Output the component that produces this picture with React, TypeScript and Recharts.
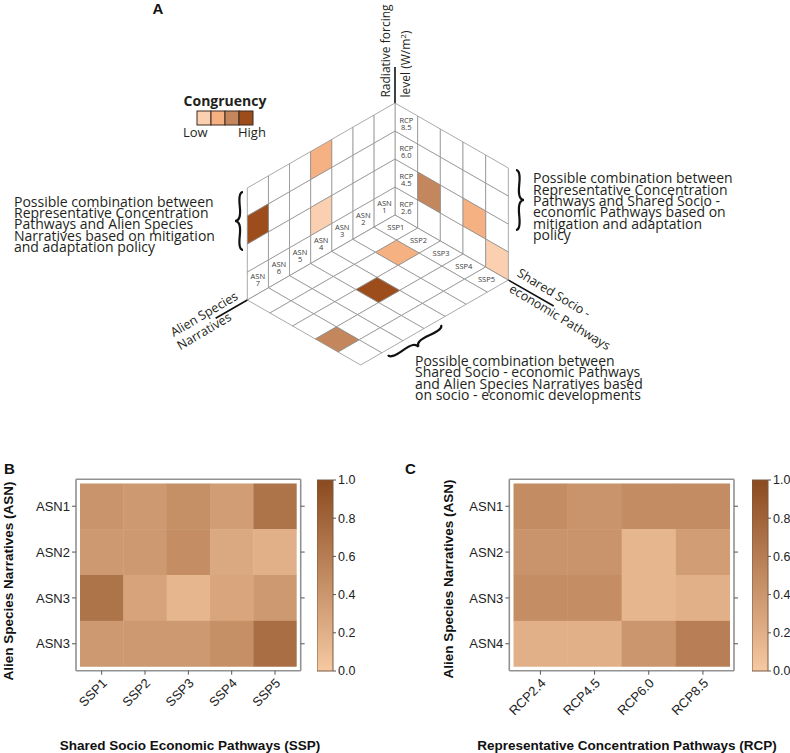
import React from 'react';
import { ScatterChart, Scatter, XAxis, YAxis, ReferenceLine, BarChart, Bar } from 'recharts';

// ---- panel A : schematic cube ----
const sspNames = ['SSP1', 'SSP2', 'SSP3', 'SSP4', 'SSP5'];
const asnNumbers = ['1', '2', '3', '4', '5', '6', '7'];
const rcpLevels = ['2.6', '4.5', '6.0', '8.5'];
const congruencyColors = ['#fad0b0', '#f6b182', '#c4865c', '#9d4d1c'];

// highlighted cells, level 1 = low ... 4 = high congruency
const wallSspRcp = [
  { ssp: 1, rcp: 1, level: 3 },
  { ssp: 3, rcp: 1, level: 2 },
  { ssp: 4, rcp: 0, level: 1 },
];
const wallAsnRcp = [
  { asn: 3, rcp: 3, level: 2 },
  { asn: 3, rcp: 1, level: 1 },
  { asn: 6, rcp: 2, level: 4 },
];
const floorSspAsn = [
  { ssp: 1, asn: 1, level: 2 },
  { ssp: 2, asn: 3, level: 4 },
  { ssp: 3, asn: 6, level: 3 },
];

// ---- panels B and C : heatmaps ----
const bCols = ['SSP1', 'SSP2', 'SSP3', 'SSP4', 'SSP5'];
const bRows = ['ASN1', 'ASN2', 'ASN3', 'ASN3'];
const bValues = [
  [0.42, 0.38, 0.45, 0.35, 0.68],
  [0.38, 0.38, 0.47, 0.25, 0.2],
  [0.68, 0.3, 0.15, 0.28, 0.38],
  [0.38, 0.38, 0.38, 0.45, 0.72],
];
const cCols = ['RCP2.4', 'RCP4.5', 'RCP6.0', 'RCP8.5'];
const cRows = ['ASN1', 'ASN2', 'ASN3', 'ASN4'];
const cValues = [
  [0.48, 0.42, 0.48, 0.48],
  [0.42, 0.42, 0.15, 0.35],
  [0.47, 0.47, 0.15, 0.2],
  [0.2, 0.2, 0.4, 0.58],
];
const colorbarTicks = [0, 0.2, 0.4, 0.6, 0.8, 1];

const LOW = [246, 201, 162];
const HIGH = [139, 74, 31];
const ramp = (v: number) => {
  const c = LOW.map((l, i) => Math.round(l + (HIGH[i] - l) * v));
  return `rgb(${c[0]},${c[1]},${c[2]})`;
};

const SANS_A = '"Open Sans", "DejaVu Sans", sans-serif';
const SANS = '"Liberation Sans", Arial, sans-serif';
const INK = '#231f20';

// isometric projection of panel A
const ISO = { ox: 395, oy: 215, ux: 22.67, uy: 13, vx: -21.1, vy: 12.14, h: 28 };
const proj = (s: number, a: number, r: number) => ({
  x: ISO.ox + s * ISO.ux + a * ISO.vx,
  y: ISO.oy + s * ISO.uy + a * ISO.vy - r * ISO.h,
});

type P = { x: number; y: number };
function makeCell(corners: P[], fill: string, lines: string[]) {
  const x = corners.reduce((t, p) => t + p.x, 0) / corners.length;
  const y = corners.reduce((t, p) => t + p.y, 0) / corners.length;
  return { x, y, pts: corners.map((p) => ({ x: p.x - x, y: p.y - y })), fill, lines };
}

const plainCells: any[] = [];
const colouredCells: any[] = [];
const pushCell = (cell: any, level?: number) => {
  if (level) colouredCells.push({ ...cell, fill: congruencyColors[level - 1] });
  else plainCells.push(cell);
};
for (let s = 0; s < sspNames.length; s++) {
  for (let r = 0; r < rcpLevels.length; r++) {
    const hit = wallSspRcp.find((c) => c.ssp === s && c.rcp === r);
    pushCell(
      makeCell([proj(s, 0, r), proj(s + 1, 0, r), proj(s + 1, 0, r + 1), proj(s, 0, r + 1)], '#fff', s === 0 ? ['RCP', rcpLevels[r]] : []),
      hit?.level
    );
  }
}
for (let a = 0; a < asnNumbers.length; a++) {
  for (let r = 0; r < rcpLevels.length; r++) {
    const hit = wallAsnRcp.find((c) => c.asn === a && c.rcp === r);
    pushCell(
      makeCell([proj(0, a, r), proj(0, a + 1, r), proj(0, a + 1, r + 1), proj(0, a, r + 1)], '#fff', r === 0 ? ['ASN', asnNumbers[a]] : []),
      hit?.level
    );
  }
}
for (let s = 0; s < sspNames.length; s++) {
  for (let a = 0; a < asnNumbers.length; a++) {
    const hit = floorSspAsn.find((c) => c.ssp === s && c.asn === a);
    pushCell(
      makeCell([proj(s, a, 0), proj(s + 1, a, 0), proj(s + 1, a + 1, 0), proj(s, a + 1, 0)], '#fff', a === 0 ? [sspNames[s]] : []),
      hit?.level
    );
  }
}

const isoShape = (props: any) => {
  const { cx, cy, payload } = props;
  const pts = payload.pts.map((p: P) => `${cx + p.x},${cy + p.y}`).join(' ');
  const n = payload.lines.length;
  return (
    <g>
      <polygon points={pts} fill={payload.fill} stroke="#8d8d8d" strokeWidth={0.75} />
      {payload.lines.map((t: string, i: number) => (
        <text key={i} x={cx} y={cy + (i - (n - 1) / 2) * 7 + 2.6} textAnchor="middle" fontSize={7.5} fill="#3c3c3c" fontFamily={SANS_A}>
          {t}
        </text>
      ))}
    </g>
  );
};

function bracePath(x1: number, y1: number, x2: number, y2: number, w: number, q = 0.6) {
  const len = Math.hypot(x1 - x2, y1 - y2);
  const dx = (x1 - x2) / len;
  const dy = (y1 - y2) / len;
  const qx1 = x1 + q * w * dy, qy1 = y1 - q * w * dx;
  const qx2 = x1 - 0.25 * len * dx + (1 - q) * w * dy, qy2 = y1 - 0.25 * len * dy - (1 - q) * w * dx;
  const tx = x1 - 0.5 * len * dx + w * dy, ty = y1 - 0.5 * len * dy - w * dx;
  const qx3 = x2 + q * w * dy, qy3 = y2 - q * w * dx;
  const qx4 = x1 - 0.75 * len * dx + (1 - q) * w * dy, qy4 = y1 - 0.75 * len * dy - (1 - q) * w * dx;
  return `M${x1} ${y1} Q${qx1} ${qy1} ${qx2} ${qy2} T${tx} ${ty} M${x2} ${y2} Q${qx3} ${qy3} ${qx4} ${qy4} T${tx} ${ty}`;
}

function PanelA() {
  const o = proj(0, 0, 0);
  const top = { x: ISO.ox, y: 67 };
  const sspEnd = proj(7, 0, 0);
  const asnEnd = proj(0, 8.5, 0);
  return (
    <ScatterChart width={790} height={400} margin={{ top: 0, right: 0, bottom: 0, left: 0 }}>
      <XAxis type="number" dataKey="x" domain={[0, 790]} hide allowDataOverflow />
      <YAxis type="number" dataKey="y" domain={[0, 400]} reversed hide allowDataOverflow />
      <Scatter data={plainCells} shape={isoShape} isAnimationActive={false} />
      <Scatter data={colouredCells} shape={isoShape} isAnimationActive={false} />
      <ReferenceLine segment={[o, top]} stroke="#111" strokeWidth={1.6} ifOverflow="visible" />
      <ReferenceLine segment={[o, sspEnd]} stroke="#111" strokeWidth={1.6} ifOverflow="visible" />
      <ReferenceLine segment={[o, asnEnd]} stroke="#111" strokeWidth={1.6} ifOverflow="visible" />
    </ScatterChart>
  );
}

const PAD = 4;
const SlantTick = (names: string[]) => (props: any) => {
  const { x, y, payload } = props;
  const label = names[Math.round(payload.value) - 1] ?? '';
  return (
    <text
      x={x + 3}
      y={y + 4}
      transform={`rotate(-45 ${x + 3} ${y + 4})`}
      textAnchor="end"
      dy="0.35em"
      fontSize={13}
      fill="#222"
      fontFamily={SANS}
    >
      {label}
    </text>
  );
};

function Heatmap({ left, width, marginLeft, marginRight, cols, rows, values }: any) {
  const height = 293;
  const margin = { top: 11.3, right: marginRight, bottom: 32.3, left: marginLeft };
  const plotW = width - marginLeft - marginRight - 60 - 8;
  const plotH = height - margin.top - margin.bottom - 8 - 50;
  const cellW = (plotW - 2 * PAD) / cols.length;
  const cellH = (plotH - 2 * PAD) / rows.length;
  const data = values.flatMap((row: number[], r: number) => row.map((v, c) => ({ x: c + 1, y: r + 1, v })));
  const xTicks = cols.map((_: string, i: number) => i + 1);
  const yTicks = rows.map((_: string, i: number) => i + 1);
  const xDomain = [0.5, cols.length + 0.5];
  const yDomain = [0.5, rows.length + 0.5];
  const cellShape = (p: any) => (
    <rect
      x={p.cx - cellW / 2}
      y={p.cy - cellH / 2}
      width={cellW + 0.4}
      height={cellH + 0.4}
      fill={ramp(p.payload.v)}
    />
  );
  const axisLine = { stroke: '#929292', strokeWidth: 1.6 };
  const tickLine = { stroke: '#555', strokeWidth: 1 };
  return (
    <div style={{ position: 'absolute', left, top: 460 }}>
      <ScatterChart width={width} height={height} margin={margin}>
        <XAxis
          xAxisId="b"
          type="number"
          dataKey="x"
          domain={xDomain}
          ticks={xTicks}
          interval={0}
          padding={{ left: PAD, right: PAD }}
          height={50}
          tickSize={4}
          axisLine={axisLine}
          tickLine={tickLine}
          tick={SlantTick(cols)}
          allowDataOverflow
        />
        <XAxis
          xAxisId="t"
          orientation="top"
          type="number"
          domain={xDomain}
          ticks={xTicks}
          interval={0}
          padding={{ left: PAD, right: PAD }}
          height={8}
          tickSize={4}
          axisLine={axisLine}
          tickLine={tickLine}
          tickFormatter={() => ''}
          allowDataOverflow
        />
        <YAxis
          yAxisId="l"
          type="number"
          dataKey="y"
          domain={yDomain}
          reversed
          ticks={yTicks}
          interval={0}
          padding={{ top: PAD, bottom: PAD }}
          width={60}
          tickSize={4}
          axisLine={axisLine}
          tickLine={tickLine}
          tick={{ fontSize: 13, fill: '#222', fontFamily: SANS }}
          tickFormatter={(v: number) => rows[Math.round(v) - 1] ?? ''}
          allowDataOverflow
        />
        <YAxis
          yAxisId="r"
          orientation="right"
          type="number"
          domain={yDomain}
          reversed
          ticks={yTicks}
          interval={0}
          padding={{ top: PAD, bottom: PAD }}
          width={8}
          tickSize={4}
          axisLine={axisLine}
          tickLine={tickLine}
          tickFormatter={() => ''}
          allowDataOverflow
        />
        <Scatter xAxisId="b" yAxisId="l" data={data} shape={cellShape} isAnimationActive={false} />
      </ScatterChart>
    </div>
  );
}

function Colorbar({ left, id }: { left: number; id: string }) {
  const stops = [0, 0.25, 0.5, 0.75, 1];
  return (
    <div style={{ position: 'absolute', left, top: 472 }}>
      <BarChart width={53} height={207} data={[{ name: 'c', v: 1 }]} margin={{ top: 8, right: 0, bottom: 8, left: 0 }} barCategoryGap={0}>
        <defs>
          <linearGradient id={id} x1="0" y1="1" x2="0" y2="0">
            {stops.map((s) => (
              <stop key={s} offset={s} stopColor={ramp(s)} />
            ))}
          </linearGradient>
        </defs>
        <XAxis dataKey="name" hide />
        <YAxis
          orientation="right"
          domain={[0, 1]}
          ticks={colorbarTicks}
          interval={0}
          width={37}
          tickSize={3}
          axisLine={false}
          tickLine={{ stroke: '#555' }}
          tick={{ fontSize: 12.5, fill: '#222', fontFamily: SANS }}
          tickFormatter={(v: number) => v.toFixed(1)}
        />
        <Bar dataKey="v" fill={`url(#${id})`} stroke="#7b5a43" strokeWidth={1} isAnimationActive={false} />
      </BarChart>
    </div>
  );
}

function Annotations() {
  const leftLines = ['Possible combination between', 'Representative Concentration', 'Pathways and Alien Species', 'Narratives based on mitigation', 'and adaptation policy'];
  const rightLines = ['Possible combination between', 'Representative Concentration', 'Pathways and Shared Socio -', 'economic Pathways based on', 'mitigation and adaptation', 'policy'];
  const bottomLines = ['Possible combination between', 'Shared Socio - economic Pathways', 'and Alien Species Narratives based', 'on socio - economic developments'];
  const block = (lines: string[], x: number, y0: number) =>
    lines.map((t, i) => (
      <text key={t + i} x={x} y={y0 + i * 11.3} fontSize={14} fill={INK} fontFamily={SANS_A}>
        {t}
      </text>
    ));
  return (
    <svg width={790} height={753} style={{ position: 'absolute', left: 0, top: 0, pointerEvents: 'none' }}>
      <text x={158} y={14} textAnchor="middle" fontSize={15} fontWeight="bold" fill="#111" fontFamily={SANS}>A</text>
      <text x={4} y={474} fontSize={15} fontWeight="bold" fill="#111" fontFamily={SANS}>B</text>
      <text x={405} y={474} fontSize={15} fontWeight="bold" fill="#111" fontFamily={SANS}>C</text>

      <text x={225} y={106} textAnchor="middle" fontSize={14} fontWeight="bold" fill={INK} fontFamily={SANS_A}>Congruency</text>
      {congruencyColors.map((c, i) => (
        <rect key={c} x={197 + i * 14} y={111} width={14} height={14} fill={c} stroke="#3b2a20" strokeWidth={1} />
      ))}
      <text x={183} y={137} fontSize={13} fill={INK} fontFamily={SANS_A}>Low</text>
      <text x={238} y={137} fontSize={13} fill={INK} fontFamily={SANS_A}>High</text>

      <text transform="translate(390,51) rotate(-90)" textAnchor="middle" fontSize={12} fill={INK} fontFamily={SANS_A}>Radiative forcing</text>
      <text transform="translate(410,64) rotate(-90)" textAnchor="middle" fontSize={12} fill={INK} fontFamily={SANS_A}>
        level (W/m<tspan dy={-4} fontSize={8}>2</tspan><tspan dy={4}>)</tspan>
      </text>
      <text transform="translate(204,314) rotate(-30.5)" y={4.5} textAnchor="middle" fontSize={12.5} fill={INK} fontFamily={SANS_A}>Alien Species</text>
      <text transform="translate(204,331) rotate(-30.5)" y={4.5} textAnchor="middle" fontSize={12.5} fill={INK} fontFamily={SANS_A}>Narratives</text>
      <text transform="translate(554,293) rotate(31)" y={4.5} textAnchor="middle" fontSize={12.5} fill={INK} fontFamily={SANS_A}>Shared Socio -</text>
      <text transform="translate(560,317) rotate(31)" y={4.5} textAnchor="middle" fontSize={12.5} fill={INK} fontFamily={SANS_A}>economic Pathways</text>

      {block(leftLines, 14, 206.7)}
      {block(rightLines, 533, 183.3)}
      {block(bottomLines, 415, 366)}
      <path d={bracePath(243, 192, 243, 250, 8)} fill="none" stroke="#111" strokeWidth={2.2} />
      <path d={bracePath(516, 230, 516, 170, 8)} fill="none" stroke="#111" strokeWidth={2.2} />
      <path d={bracePath(388, 355, 441, 325, 8)} fill="none" stroke="#111" strokeWidth={2.2} />

      <text transform="translate(13,581) rotate(-90)" textAnchor="middle" fontSize={13.5} fontWeight="bold" fill="#111" fontFamily={SANS}>Alien Species Narratives (ASN)</text>
      <text x={190} y={750} textAnchor="middle" fontSize={13.5} fontWeight="bold" fill="#111" fontFamily={SANS}>Shared Socio Economic Pathways (SSP)</text>
      <text transform="translate(453,579) rotate(-90)" textAnchor="middle" fontSize={13.5} fontWeight="bold" fill="#111" fontFamily={SANS}>Alien Species Narratives (ASN)</text>
      <text x={627} y={750} textAnchor="middle" fontSize={13.5} fontWeight="bold" fill="#111" fontFamily={SANS}>Representative Concentration Pathways (RCP)</text>
    </svg>
  );
}

export default function App() {
  return (
    <div style={{ position: 'absolute', left: 0, top: 0, width: 790, height: 753, background: '#fff', overflow: 'hidden' }}>
      <div style={{ position: 'absolute', left: 0, top: 0 }}>
        <PanelA />
      </div>
      <Heatmap left={0} width={395} marginLeft={16} marginRight={86.3} cols={bCols} rows={bRows} values={bValues} />
      <Colorbar left={317} id="cbB" />
      <Heatmap left={400} width={390} marginLeft={49.3} marginRight={48} cols={cCols} rows={cRows} values={cValues} />
      <Colorbar left={752} id="cbC" />
      <Annotations />
    </div>
  );
}
